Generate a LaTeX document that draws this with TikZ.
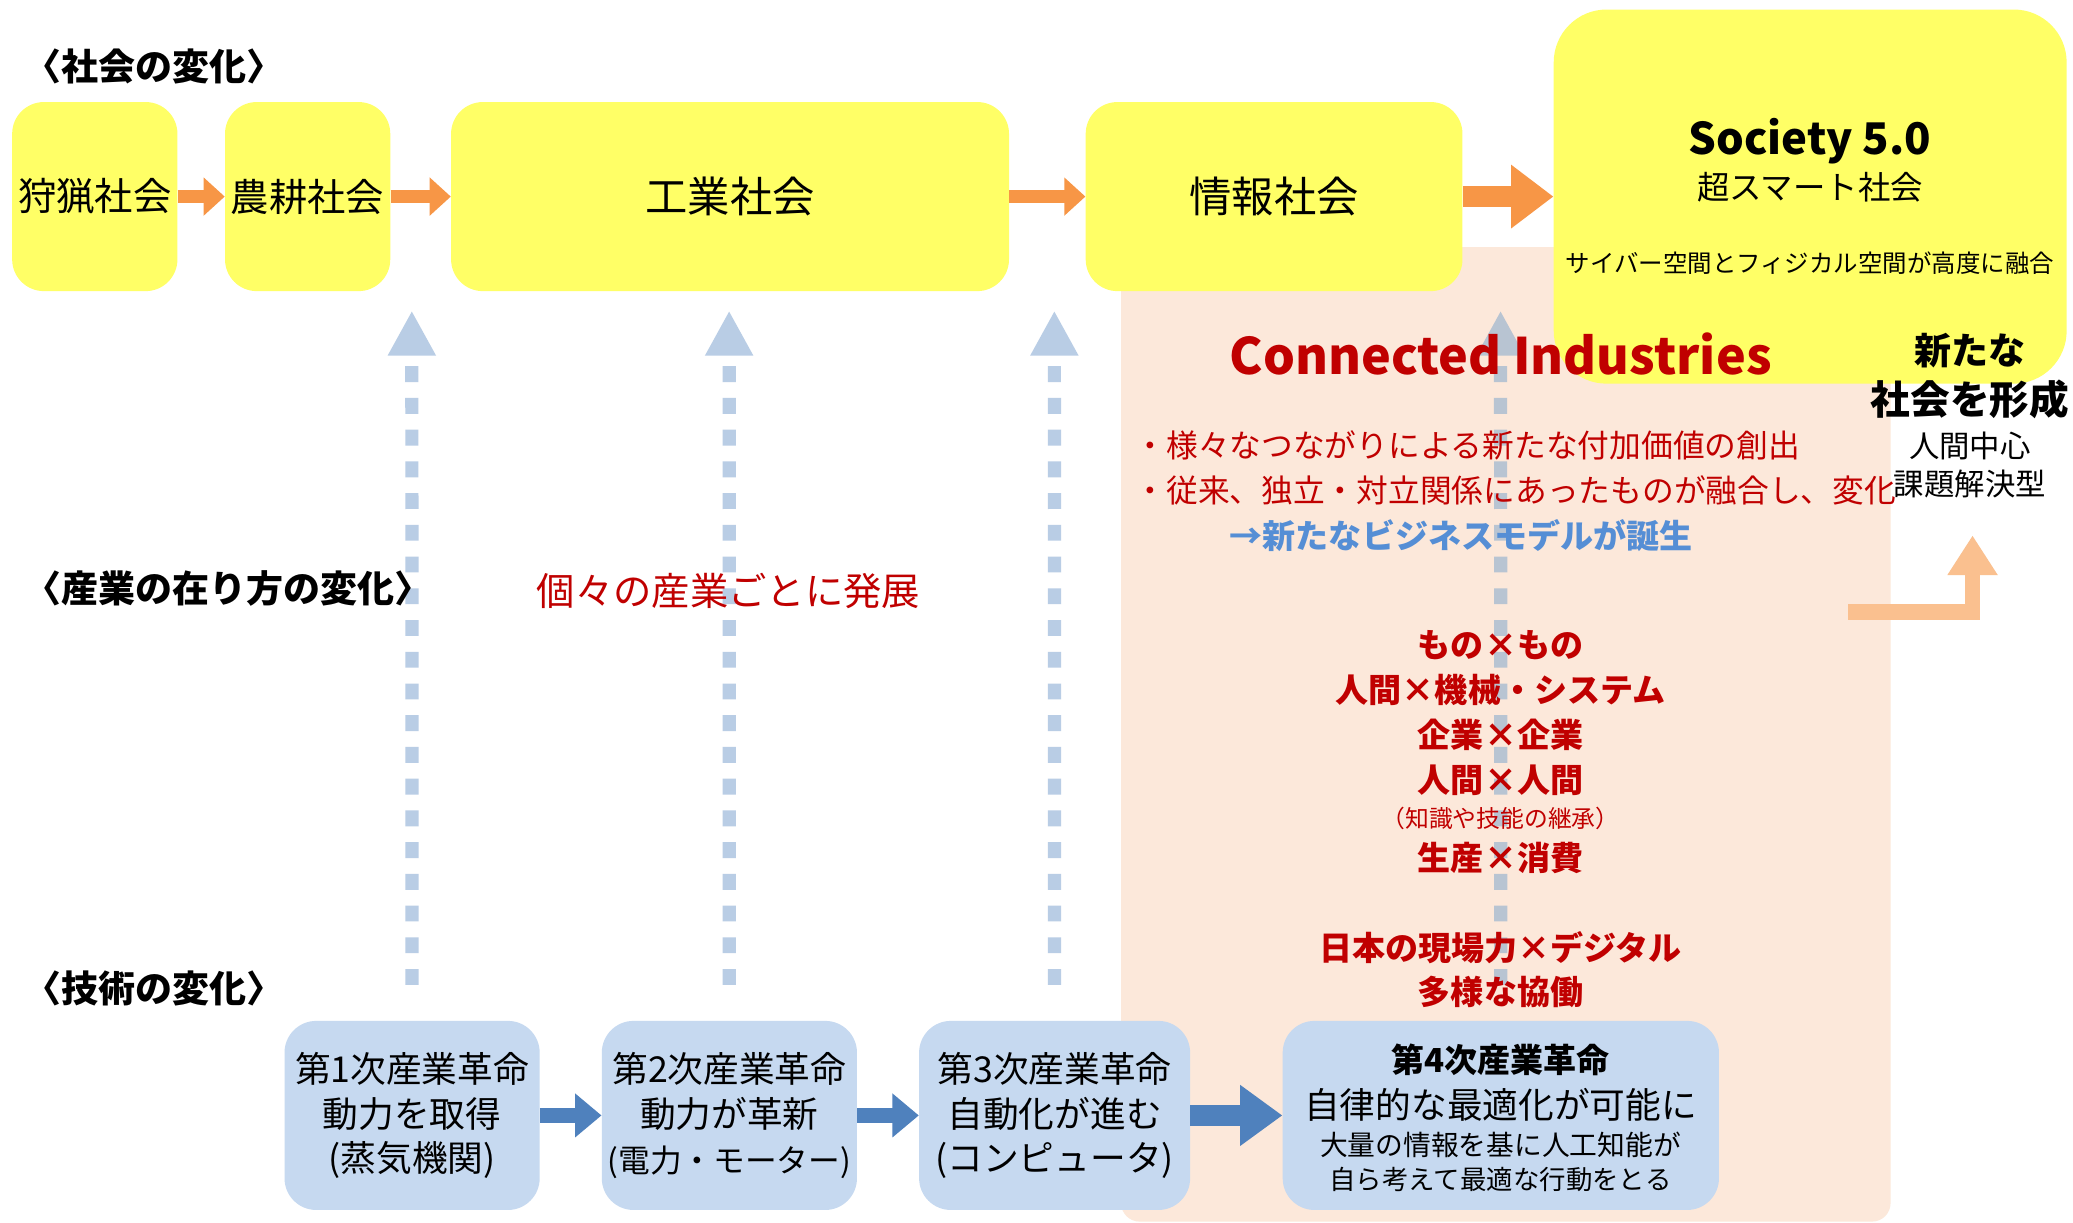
\documentclass[tikz,border=0pt]{standalone}
\usepackage{fontspec}
\setmainfont{Noto Sans CJK JP}
\usetikzlibrary{arrows.meta}
\definecolor{ylw}{HTML}{FFFF66}
\definecolor{peach}{HTML}{FCE8DA}
\definecolor{org}{HTML}{F79646}
\definecolor{lorg}{HTML}{FAC08F}
\definecolor{lblue}{HTML}{C6D9F0}
\definecolor{dblue}{HTML}{4F81BD}
\definecolor{dotb}{HTML}{B9CDE5}
\definecolor{dotg}{HTML}{B8C4D2}
\definecolor{rd}{HTML}{C00000}
\definecolor{txtb}{HTML}{558ED5}
\newcommand{\fs}[1]{\fontsize{#1}{#1}\selectfont}
\begin{document}
\begin{tikzpicture}[x=1pt,y=-1pt,
  soc/.style={fill=ylw, rounded corners=24pt, inner sep=0pt, anchor=north west},
  tech/.style={fill=lblue, rounded corners=24pt, inner sep=0pt, anchor=north west, align=center, font=\fontsize{27}{34}\selectfont},
  oarr/.style={draw=org, line width=10pt, -{Triangle[length=16pt,width=28pt,fill=org]}},
  oarrbig/.style={draw=org, line width=16pt, -{Triangle[length=32pt,width=46pt,fill=org]}},
  barr/.style={draw=dblue, line width=12pt, -{Triangle[length=20pt,width=32pt,fill=dblue]}},
  barrbig/.style={draw=dblue, line width=16pt, -{Triangle[length=32pt,width=44pt,fill=dblue]}},
  dotarr/.style={draw=dotb, line width=10pt, dash pattern=on 12pt off 12pt, shorten <=27pt, -{Triangle[length=34pt,width=34pt,fill=dotb]}},
  hdr/.style={anchor=west, inner sep=0pt, font=\bfseries\fs{28}},
  redb/.style={inner sep=0pt, text=rd, font=\bfseries\fs{25}},
]
\useasboundingbox (0,0) rectangle (1568,925);
\fill[white] (0,0) rectangle (1568,925);
% peach background
\fill[peach, rounded corners=14pt] (848,187) rectangle (1430,924);

% society boxes
\node[soc, minimum width=125pt, minimum height=143pt, font=\fs{29}] (s1) at (9,77) {狩猟社会};
\node[soc, minimum width=125pt, minimum height=143pt, font=\fs{29}] (s2) at (170,77) {農耕社会};
\node[soc, minimum width=422pt, minimum height=143pt, font=\fs{32}] (s3) at (341,77) {工業社会};
\node[soc, minimum width=285pt, minimum height=143pt, font=\fs{32}] (s4) at (821,77) {情報社会};
\node[soc, minimum width=388pt, minimum height=283pt, rounded corners=40pt] (s5) at (1175,7) {};

\draw[oarr] (s1) -- (s2);
\draw[oarr] (s2) -- (s3);
\draw[oarr] (s3) -- (s4);
\draw[oarrbig] (s4) -- (s5);

% tech boxes
\node[tech, minimum width=193pt, minimum height=143pt] (t1) at (215,772) {第1次産業革命\\動力を取得\\(蒸気機関)};
\node[tech, minimum width=193pt, minimum height=143pt] (t2) at (455,772) {第2次産業革命\\動力が革新\\{\fs{24}(電力・モーター)}};
\node[tech, minimum width=205pt, minimum height=143pt] (t3) at (695,772) {第3次産業革命\\自動化が進む\\(コンピュータ)};
\node[tech, minimum width=330pt, minimum height=143pt] (t4) at (970,772) {};

\draw[barr] (t1) -- (t2);
\draw[barr] (t2) -- (t3);
\draw[barrbig] (t3) -- (t4);

% dotted upward arrows
\coordinate (u1) at (311.5,235);
\coordinate (u2) at (551.5,235);
\coordinate (u3) at (797.5,235);
\coordinate (u4) at (1135,235);
\draw[dotarr] (t1) -- (u1);
\draw[dotarr] (t2) -- (u2);
\draw[dotarr] (t3) -- (u3);
\draw[dotarr, draw=dotg, -{Triangle[length=34pt,width=34pt,fill=dotg]}] (t4) -- (u4);

% elbow arrow
\coordinate (e0) at (1398,463);
\coordinate (e1) at (1492,405);
\draw[draw=lorg, line width=12pt, -{Triangle[length=30pt,width=36pt,fill=lorg]}] (e0) -| (e1);

% headers
\node[hdr] (h1) at (18,50) {〈社会の変化〉};
\node[hdr] (h2) at (18,445) {〈産業の在り方の変化〉};
\node[hdr] (h3) at (18,748) {〈技術の変化〉};

\node[inner sep=0pt, text=rd, font=\fs{29}] (ind) at (551,447) {個々の産業ごとに発展};

% Society 5.0 texts
\node[inner sep=0pt, font=\bfseries\fs{33}] (so1) at (1369,107) {Society 5.0};
\node[inner sep=0pt, font=\fs{24.5}] (so2) at (1369,142) {超スマート社会};
\node[inner sep=0pt, font=\fs{18.5}] (so3) at (1369,199) {サイバー空間とフィジカル空間が高度に融合};

% Connected Industries
\node[inner sep=0pt, text=rd, font=\bfseries\fs{38}] (ci) at (1135,268) {Connected Industries};
\node[inner sep=0pt, anchor=west, text=rd, font=\fs{24}] (b1) at (858,337) {・様々なつながりによる新たな付加価値の創出};
\node[inner sep=0pt, anchor=west, text=rd, font=\fs{24}] (b2) at (858,371) {・従来、独立・対立関係にあったものが融合し、変化};
\node[inner sep=0pt, anchor=west, text=txtb, font=\bfseries\fs{25}] (b3) at (930,405) {→新たなビジネスモデルが誕生};

% right side
\node[inner sep=0pt, font=\bfseries\fs{28}] (r1) at (1490,265) {新たな};
\node[inner sep=0pt, font=\bfseries\fs{30}] (r2) at (1490,302) {社会を形成};
\node[inner sep=0pt, font=\fs{23}] (r3) at (1490,337) {人間中心};
\node[inner sep=0pt, font=\fs{23}] (r4) at (1490,366) {課題解決型};

% red list
\node[redb] (l1) at (1135,488) {もの×もの};
\node[redb] (l2) at (1135,522) {人間×機械・システム};
\node[redb] (l3) at (1135,556) {企業×企業};
\node[redb] (l4) at (1135,590) {人間×人間};
\node[inner sep=0pt, text=rd, font=\fs{18}] (l5) at (1135,619) {（知識や技能の継承）};
\node[redb] (l6) at (1135,649) {生産×消費};
\node[redb] (l7) at (1135,717) {日本の現場力×デジタル};
\node[redb] (l8) at (1135,750) {多様な協働};

% 4th revolution texts
\node[inner sep=0pt, font=\bfseries\fs{25}] (f1) at (1135,802) {第4次産業革命};
\node[inner sep=0pt, font=\fs{27}] (f2) at (1135,836) {自律的な最適化が可能に};
\node[inner sep=0pt, font=\fs{21}] (f3) at (1135,866) {大量の情報を基に人工知能が};
\node[inner sep=0pt, font=\fs{20}] (f4) at (1135,892) {自ら考えて最適な行動をとる};
\end{tikzpicture}
\end{document}
